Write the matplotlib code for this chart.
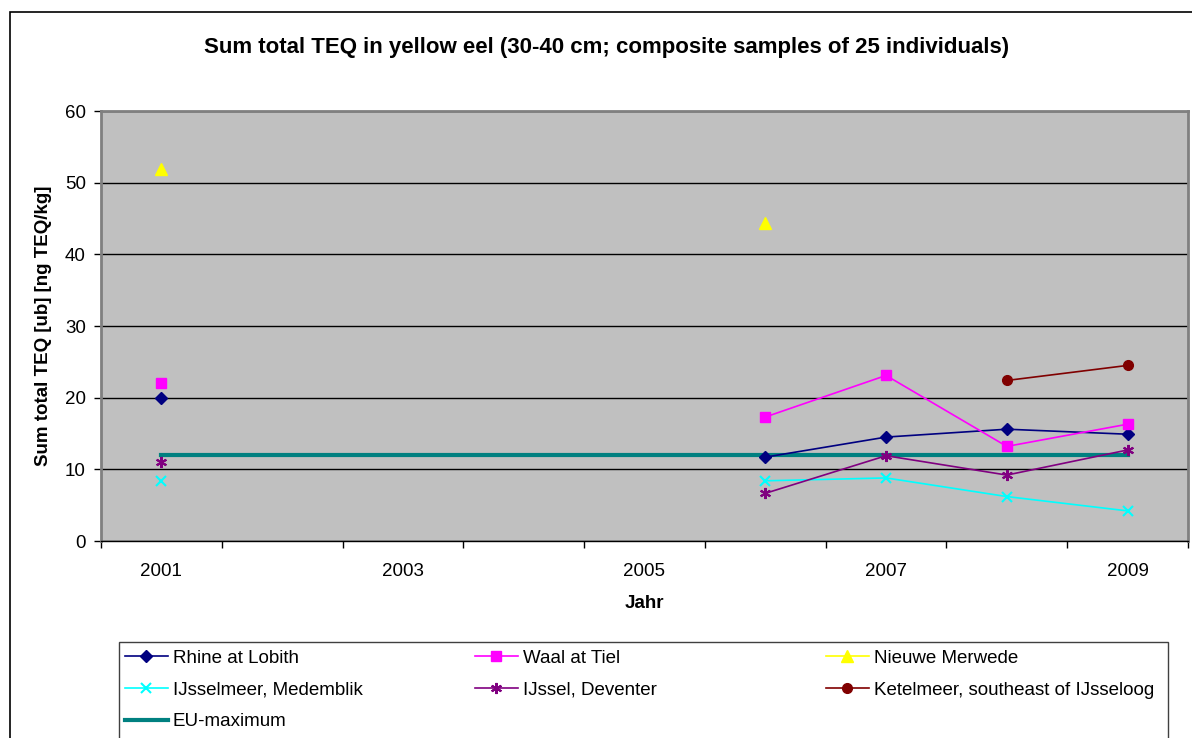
import numpy as np
import matplotlib.pyplot as plt
from matplotlib.patches import Rectangle

plt.rcParams['font.family'] = ['Liberation Sans', 'DejaVu Sans']

years = ['2001', '2002', '2003', '2004', '2005', '2006', '2007', '2008', '2009']
nan = np.nan
rhine = [20.0, nan, nan, nan, nan, 11.7, 14.5, 15.6, 14.9]
waal = [22.0, nan, nan, nan, nan, 17.3, 23.1, 13.2, 16.3]
merwede = [51.9, nan, nan, nan, nan, 44.4, nan, nan, nan]
ijsselmeer = [8.4, nan, nan, nan, nan, 8.4, 8.8, 6.2, 4.2]
ijssel = [11.0, nan, nan, nan, nan, 6.65, 11.9, 9.2, 12.7]
ketelmeer = [nan, nan, nan, nan, nan, nan, nan, 22.4, 24.5]
eu_max = [12, 12, 12, 12, 12, 12, 12, 12, 12]

W, H = 1192, 738
fig = plt.figure(figsize=(W / 100, H / 100), dpi=100)

# outer chart border (cropped on right/bottom)
fig.patches.append(Rectangle((10 / W, -0.05), 1.1, 1 - 12 / H + 0.05,
                             transform=fig.transFigure, fill=False,
                             edgecolor='black', lw=1.2))

ax = fig.add_axes([101 / W, 1 - 541 / H, (1188 - 101) / W, (541 - 111) / H])
ax.set_facecolor('#C0C0C0')

x = np.arange(len(years))
h_rhine, = ax.plot(x, rhine, color='#000080', marker='D', ms=6.5, lw=1.2,
                   label='Rhine at Lobith')
h_waal, = ax.plot(x, waal, color='#FF00FF', marker='s', ms=6.5, lw=1.2,
                  label='Waal at Tiel')
h_merw, = ax.plot(x, merwede, color='#FFFF00', marker='^', ms=8, lw=1.2,
                  label='Nieuwe Merwede')
h_ijm, = ax.plot(x, ijsselmeer, color='#00FFFF', marker='x', ms=7.5, mew=1.5,
                 lw=1.2, label='IJsselmeer, Medemblik')
h_ijs, = ax.plot(x, ijssel, color='#800080', marker=(6, 2, 0), ms=8, mew=1.5,
                 lw=1.2, label='IJssel, Deventer')
h_ket, = ax.plot(x, ketelmeer, color='#800000', marker='o', ms=7, lw=1.2,
                 label='Ketelmeer, southeast of IJsseloog')
h_eu, = ax.plot(x, eu_max, color='#008080', lw=3, label='EU-maximum', zorder=1.9)

ax.set_xlim(-0.5, len(years) - 0.5)
ax.set_ylim(0, 60)
ax.set_yticks(range(0, 61, 10))
ax.yaxis.grid(True, color='black', lw=1)
ax.set_axisbelow(True)

ax.set_xticks(np.arange(-0.5, len(years), 1))
ax.set_xticklabels([])
ax.set_xticks(x[::2], minor=True)
ax.set_xticklabels(years[::2], minor=True)
ax.tick_params(axis='x', which='major', direction='out', length=5, width=1)
ax.tick_params(axis='x', which='minor', length=0, pad=16, labelsize=13.5)
ax.tick_params(axis='y', direction='out', length=5, width=1, pad=6, labelsize=13.5)

for s in ['left', 'top', 'right']:
    ax.spines[s].set_color('#808080')
    ax.spines[s].set_linewidth(2)
ax.spines['bottom'].set_color('black')
ax.spines['bottom'].set_linewidth(1)

ax.set_ylabel('Sum total TEQ [ub] [ng TEQ/kg]', fontsize=13.5, fontweight='bold',
              labelpad=9)
ax.set_xlabel('Jahr', fontsize=13.5, fontweight='bold', labelpad=11)

fig.text(607 / W, 1 - 47 / H,
         'Sum total TEQ in yellow eel (30-40 cm; composite samples of 25 individuals)',
         ha='center', va='center', fontsize=16, fontweight='bold')

# legend box
fig.patches.append(Rectangle((119 / W, -0.05), (1168 - 119) / W, 0.05 + 1 - 642 / H,
                             transform=fig.transFigure, fill=False,
                             edgecolor='#404040', lw=1))

cols = [([h_rhine, h_ijm, h_eu], 120), ([h_waal, h_ijs], 470), ([h_merw, h_ket], 821)]
for handles, xl in cols:
    fig.legend(handles=handles, loc='upper left',
               bbox_to_anchor=(xl / W, 1 - 645 / H), frameon=False,
               fontsize=13.5, handlelength=2.3, handletextpad=0.27,
               labelspacing=0.78, borderaxespad=0, borderpad=0.25)

fig.savefig('out.png', dpi=100)
